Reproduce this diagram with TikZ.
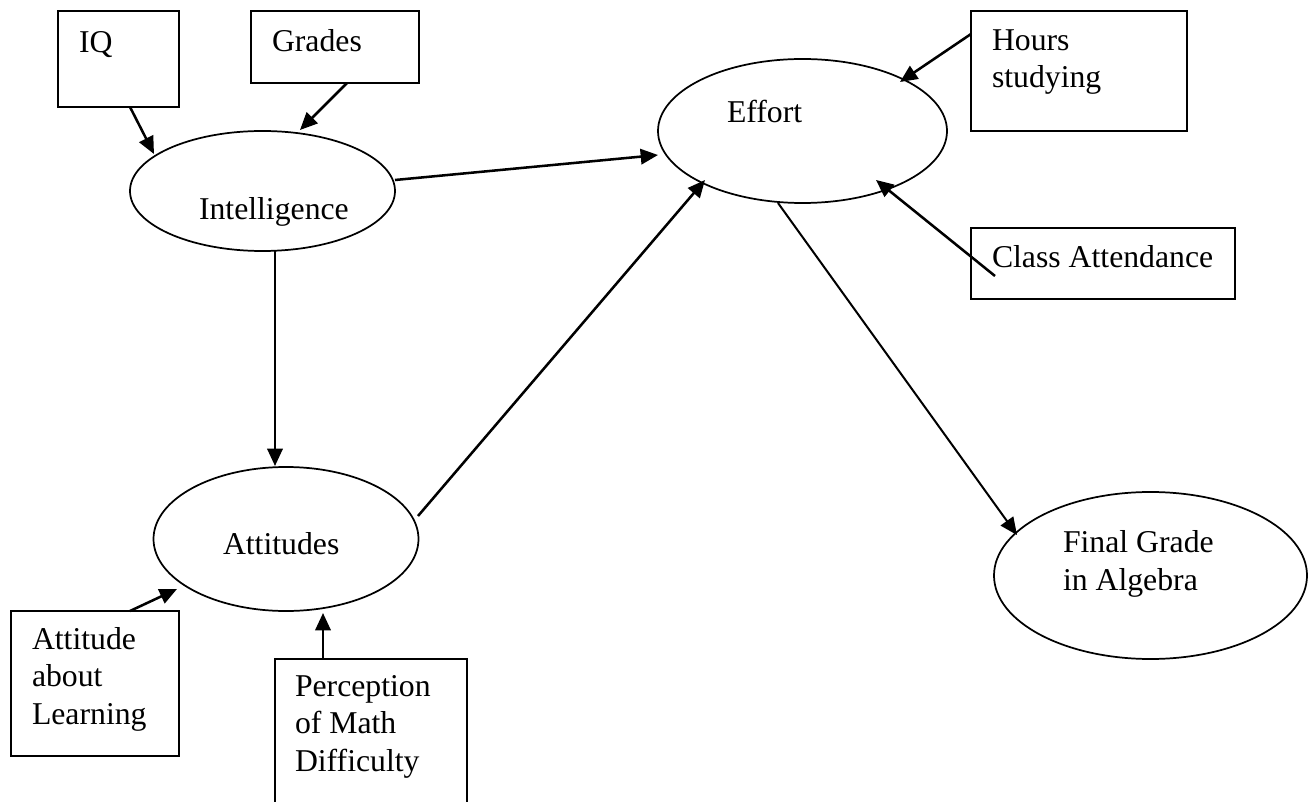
\documentclass[tikz,border=0pt]{standalone}
\usepackage{fontspec}
\setmainfont{Liberation Serif}
\usetikzlibrary{shapes.geometric,arrows.meta,calc}

\tikzset{
  box/.style 2 args={draw, line width=1.3pt, rectangle, inner sep=0pt, outer sep=0pt,
    minimum width=#1*0.75pt, minimum height=#2*0.75pt},
  oval/.style 2 args={draw, line width=1.3pt, ellipse, inner sep=0pt, outer sep=0pt,
    minimum width=#1*0.75pt, minimum height=#2*0.75pt},
  % labels are placed by the baseline of their last line
  lbl/.style={anchor=base west, inner sep=0pt, outer sep=0pt, align=left,
    font=\fontsize{23.8}{28}\selectfont},
  link/.style={line width=1.9pt, -{Triangle[length=13pt,width=11.5pt]}},
  thinlink/.style={line width=1.5pt, -{Triangle[length=13pt,width=11.5pt]}}
}

\begin{document}
\begin{tikzpicture}[x=0.75pt, y=-0.75pt]
  \clip (0,0) rectangle (1314,802);

  % observed indicators
  \node[box={121}{96}]  (iq)     at (118.5,59)   {};
  \node[box={168}{72}]  (grades) at (335,47)     {};
  \node[box={216}{120}] (hrs)    at (1079,71)    {};
  \node[box={264}{71}]  (cls)    at (1103,263.5) {};
  \node[box={168}{145}] (learn)  at (95,683.5)   {};
  \node[box={192}{200}] (perc)   at (371,759)    {};

  % latent constructs
  \node[oval={265}{120}] (intel) at (262.5,191) {};
  \node[oval={289}{144}] (eff)   at (802.5,131) {};
  \node[oval={265}{144}] (att)   at (286,539)   {};
  \node[oval={313}{167}] (fin)   at (1150.5,575.5) {};

  % labels
  \node[lbl] (tiq)     at (79,53)    {IQ};
  \node[lbl] (tgrades) at (272,52)   {Grades};
  \node[lbl] (tintel)  at (199,220)  {Intelligence};
  \node[lbl] (teff)    at (727,123)  {Effort};
  \node[lbl] (thrs)    at (992,88)   {Hours\\studying};
  \node[lbl] (tcls)    at (992,268)  {Class Attendance};
  \node[lbl] (tfin)    at (1063,590) {Final Grade\\in Algebra};
  \node[lbl] (tatt)    at (223,554)  {Attitudes};
  \node[lbl] (tlearn)  at (32,724)   {Attitude\\about\\Learning};
  \node[lbl] (tperc)   at (295,771)  {Perception\\of Math\\Difficulty};

  % paths
  \draw[link] ($(iq.south)+(11.5,0)$) -- ($(intel)+(-108.5,-37)$);
  \draw[link] ($(grades.south)+(12,0)$) -- ($(intel)+(37.5,-61)$);
  \draw[link] ($(intel)+(132.5,-11)$) -- ($(eff)+(-144.5,24)$);
  \draw[link] ($(intel)+(12.5,60)$) -- ($(att)+(-11,-73)$);
  \draw[link] ($(att)+(132,-23)$) -- ($(eff)+(-97.5,49)$);
  \draw[link] ($(hrs.north west)+(0,23)$) -- ($(eff)+(97.5,-49)$);
  \draw[link] ($(cls)+(-108,12.5)$) -- ($(eff)+(73.5,49)$);
  \draw[thinlink] ($(eff)+(-24.5,72)$) -- ($(fin)+(-133.5,-40.5)$);
  \draw[link] ($(learn.north)+(35,0)$) -- ($(att)+(-109,50)$);
  \draw[link] ($(perc.north)+(-48,0)$) -- ($(att)+(37,74)$);
\end{tikzpicture}
\end{document}
